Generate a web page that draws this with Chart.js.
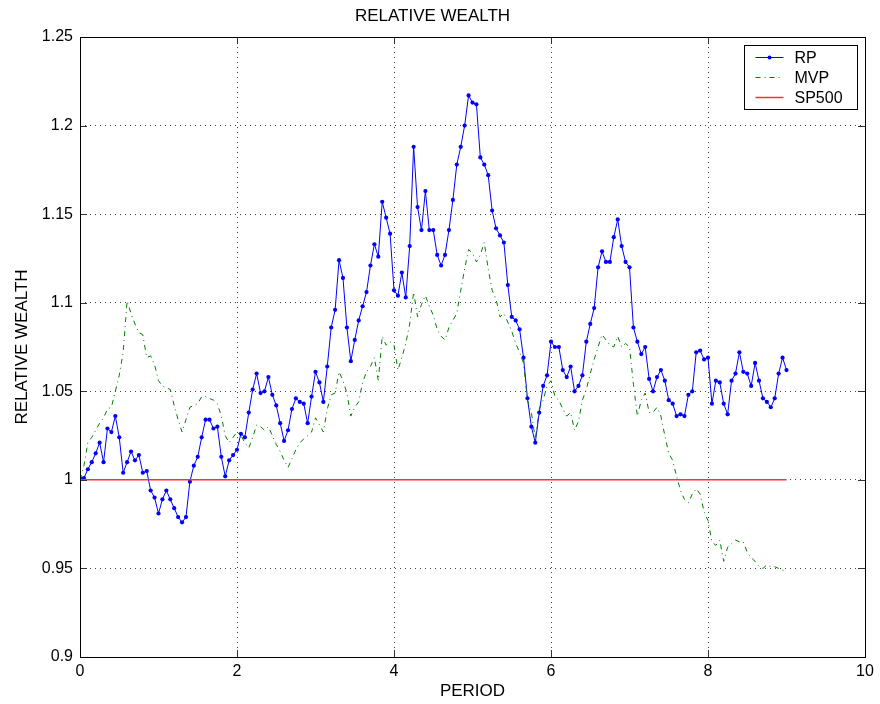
<!DOCTYPE html>
<html>
<head>
<meta charset="utf-8">
<script src="https://cdn.jsdelivr.net/npm/chart.js@4.4.1/dist/chart.umd.min.js"></script>
<style>
  html, body { margin: 0; padding: 0; background: #fff; }
  #wrap { width: 880px; height: 704px; }
</style>
</head>
<body>
<div id="wrap"><canvas id="wealth-chart" width="880" height="704"></canvas></div>
<script>
// Data (one value every 0.05 period)
const STEP = 0.05;

const rpValues = [
  1.001, 1.001, 1.006, 1.010, 1.015, 1.021, 1.010, 1.029, 1.027, 1.036,
  1.024, 1.004, 1.010, 1.016, 1.011, 1.014, 1.004, 1.005, 0.994, 0.990,
  0.981, 0.989, 0.994, 0.989, 0.984, 0.979, 0.976, 0.979, 0.999, 1.008,
  1.013, 1.024, 1.034, 1.034, 1.029, 1.030, 1.013, 1.002, 1.011, 1.014,
  1.017, 1.026, 1.024, 1.038, 1.051, 1.060, 1.049, 1.050, 1.058, 1.048,
  1.042, 1.032, 1.022, 1.028, 1.040, 1.046, 1.044, 1.043, 1.032, 1.047,
  1.061, 1.055, 1.044, 1.064, 1.086, 1.096, 1.124, 1.114, 1.086, 1.067,
  1.079, 1.090, 1.098, 1.106, 1.121, 1.133, 1.126, 1.157, 1.148, 1.139,
  1.107, 1.104, 1.117, 1.103, 1.132, 1.188, 1.154, 1.141, 1.163, 1.141,
  1.141, 1.127, 1.121, 1.127, 1.141, 1.158, 1.178, 1.188, 1.200, 1.217,
  1.213, 1.212, 1.182, 1.178, 1.172, 1.152, 1.142, 1.138, 1.134, 1.110,
  1.092, 1.090, 1.085, 1.069, 1.046, 1.030, 1.021, 1.038, 1.053, 1.059,
  1.078, 1.075, 1.075, 1.062, 1.058, 1.064, 1.050, 1.053, 1.059, 1.078,
  1.088, 1.097, 1.120, 1.129, 1.123, 1.123, 1.137, 1.147, 1.132, 1.123,
  1.120, 1.086, 1.078, 1.071, 1.075, 1.057, 1.050, 1.058, 1.062, 1.056,
  1.045, 1.043, 1.036, 1.037, 1.036, 1.048, 1.050, 1.072, 1.073, 1.068,
  1.069, 1.043, 1.056, 1.055, 1.043, 1.037, 1.056, 1.060, 1.072, 1.061,
  1.060, 1.053, 1.066, 1.056, 1.046, 1.044, 1.041, 1.046, 1.060, 1.069, 1.062
];

const mvpValues = [
  1.000, 1.008, 1.021, 1.024, 1.028, 1.032, 1.035, 1.040, 1.041, 1.050,
  1.059, 1.072, 1.101, 1.094, 1.088, 1.083, 1.082, 1.069, 1.070, 1.065,
  1.056, 1.053, 1.052, 1.051, 1.042, 1.034, 1.027, 1.034, 1.041, 1.042,
  1.043, 1.047, 1.047, 1.046, 1.045, 1.043, 1.036, 1.025, 1.021, 1.024,
  1.027, 1.025, 1.021, 1.018, 1.024, 1.031, 1.030, 1.028, 1.030, 1.025,
  1.020, 1.016, 1.011, 1.007, 1.012, 1.017, 1.021, 1.023, 1.025, 1.027,
  1.035, 1.031, 1.027, 1.040, 1.048, 1.049, 1.061, 1.056, 1.049, 1.036,
  1.041, 1.044, 1.055, 1.061, 1.064, 1.069, 1.056, 1.081, 1.076, 1.078,
  1.076, 1.062, 1.069, 1.077, 1.088, 1.106, 1.092, 1.099, 1.104, 1.098,
  1.093, 1.085, 1.081, 1.079, 1.086, 1.090, 1.094, 1.107, 1.119, 1.130,
  1.128, 1.123, 1.127, 1.134, 1.119, 1.107, 1.102, 1.092, 1.094, 1.089,
  1.084, 1.077, 1.072, 1.066, 1.045, 1.038, 1.023, 1.040, 1.045, 1.053,
  1.056, 1.047, 1.045, 1.040, 1.036, 1.038, 1.028, 1.033, 1.045, 1.051,
  1.060, 1.068, 1.075, 1.082, 1.079, 1.076, 1.075, 1.081, 1.075, 1.077,
  1.075, 1.054, 1.036, 1.045, 1.049, 1.038, 1.038, 1.041, 1.036, 1.025,
  1.015, 1.011, 1.002, 0.994, 0.989, 0.987, 0.992, 0.995, 0.992, 0.982,
  0.977, 0.965, 0.963, 0.966, 0.954, 0.962, 0.964, 0.966, 0.965, 0.965,
  0.959, 0.956, 0.954, 0.951, 0.950, 0.952, 0.951, 0.951, 0.950, 0.949, 0.948
];

// SP500 is the benchmark: flat at 1 from first to last period
const spPeriods = [0, 9];
const spValues = [1, 1];

const seriesNames = ['RP', 'MVP', 'SP500'];

const xTicks = [0, 2, 4, 6, 8, 10];
const yTicks = [0.9, 0.95, 1, 1.05, 1.1, 1.15, 1.2, 1.25];

const FONT = 'Liberation Sans, Arial, Helvetica, sans-serif';

// Build {x, y} points
const toPoints = (values) => values.map((v, i) => ({ x: i * STEP, y: v }));
const spPoints = spValues.map((v, i) => ({ x: spPeriods[i], y: v }));

// Draws the box around the plot, inward tick marks and the legend
const framePlugin = {
  id: 'frame',
  afterDatasetsDraw(chart) {
    const { ctx, chartArea: a, scales } = chart;
    ctx.save();

    // inward ticks
    ctx.strokeStyle = '#333';
    ctx.lineWidth = 1;
    ctx.beginPath();
    xTicks.forEach((t) => {
      const x = Math.round(scales.x.getPixelForValue(t)) + 0.5;
      ctx.moveTo(x, a.bottom); ctx.lineTo(x, a.bottom - 7);
      ctx.moveTo(x, a.top); ctx.lineTo(x, a.top + 7);
    });
    yTicks.forEach((t) => {
      const y = Math.round(scales.y.getPixelForValue(t)) + 0.5;
      ctx.moveTo(a.left, y); ctx.lineTo(a.left + 7, y);
      ctx.moveTo(a.right, y); ctx.lineTo(a.right - 7, y);
    });
    ctx.stroke();

    // plot box
    ctx.strokeStyle = '#000';
    ctx.strokeRect(Math.round(a.left) + 0.5, Math.round(a.top) + 0.5,
      Math.round(a.right - a.left), Math.round(a.bottom - a.top));

    // legend box in the upper right corner
    const boxW = 113, boxH = 64;
    const bx = Math.round(a.right) - 121 + 0.5;
    const by = Math.round(a.top) + 8 + 0.5;
    ctx.fillStyle = '#fff';
    ctx.fillRect(bx, by, boxW, boxH);
    ctx.strokeStyle = '#000';
    ctx.strokeRect(bx, by, boxW, boxH);

    ctx.font = '16px ' + FONT;
    ctx.textBaseline = 'middle';
    chart.data.datasets.forEach((ds, i) => {
      const y = by + 12 + i * 20;
      ctx.strokeStyle = ds.borderColor;
      ctx.lineWidth = ds.borderWidth;
      ctx.setLineDash(ds.borderDash || []);
      ctx.beginPath();
      ctx.moveTo(bx + 11, y);
      ctx.lineTo(bx + 39, y);
      ctx.stroke();
      ctx.setLineDash([]);
      if (ds.pointRadius > 0) {
        ctx.fillStyle = ds.borderColor;
        ctx.beginPath();
        ctx.arc(bx + 25, y, 2, 0, Math.PI * 2);
        ctx.fill();
      }
      ctx.fillStyle = '#000';
      ctx.fillText(ds.label, bx + 50, y + 1);
    });

    ctx.restore();
  }
};

const chart = new Chart(document.querySelector('#wealth-chart'), {
  type: 'line',
  data: {
    datasets: [
      {
        label: seriesNames[0],
        data: toPoints(rpValues),
        borderColor: '#0000ff',
        backgroundColor: '#0000ff',
        borderWidth: 1,
        pointRadius: 2.1,
        pointBorderWidth: 0,
        pointBackgroundColor: '#0000ff',
        order: 3
      },
      {
        label: seriesNames[1],
        data: toPoints(mvpValues),
        borderColor: '#008000',
        borderWidth: 1,
        borderDash: [5, 4, 1, 4],
        pointRadius: 0,
        order: 2
      },
      {
        label: seriesNames[2],
        data: spPoints,
        borderColor: '#ff3030',
        borderWidth: 1.5,
        pointRadius: 0,
        order: 1
      }
    ]
  },
  options: {
    responsive: false,
    animation: false,
    events: [],
    layout: { padding: { left: 0, right: 15, top: 0, bottom: 0 } },
    elements: { line: { tension: 0 } },
    plugins: {
      legend: { display: false },
      tooltip: { enabled: false },
      title: {
        display: true,
        text: 'RELATIVE WEALTH',
        color: '#000',
        font: { family: FONT, size: 17, weight: 'normal' },
        padding: { top: 6, bottom: 10.6 }
      }
    },
    scales: {
      x: {
        type: 'linear',
        min: 0,
        max: 10,
        afterBuildTicks: (scale) => { scale.ticks = xTicks.map((v) => ({ value: v })); },
        afterFit: (scale) => { scale.height = 47; },
        ticks: {
          color: '#000',
          font: { family: FONT, size: 16 },
          padding: 5,
          maxRotation: 0,
          callback: (v) => String(v)
        },
        grid: { color: 'rgba(0,0,0,0.75)', drawTicks: false, tickLength: 0 },
        border: { display: false, dash: [1, 4] },
        title: {
          display: true,
          text: 'PERIOD',
          color: '#000',
          font: { family: FONT, size: 17 },
          padding: { top: 0, bottom: 2 }
        }
      },
      y: {
        min: 0.9,
        max: 1.25,
        afterBuildTicks: (scale) => { scale.ticks = yTicks.map((v) => ({ value: v })); },
        afterFit: (scale) => { scale.width = 80; },
        ticks: {
          color: '#000',
          font: { family: FONT, size: 16 },
          padding: 7,
          callback: (v) => String(+v.toFixed(2))
        },
        grid: { color: 'rgba(0,0,0,0.75)', drawTicks: false, tickLength: 0 },
        border: { display: false, dash: [1, 4] },
        title: {
          display: true,
          text: 'RELATIVE WEALTH',
          color: '#000',
          font: { family: FONT, size: 17 },
          padding: { top: 12, bottom: 0 }
        }
      }
    }
  },
  plugins: [framePlugin]
});
</script>
</body>
</html>
